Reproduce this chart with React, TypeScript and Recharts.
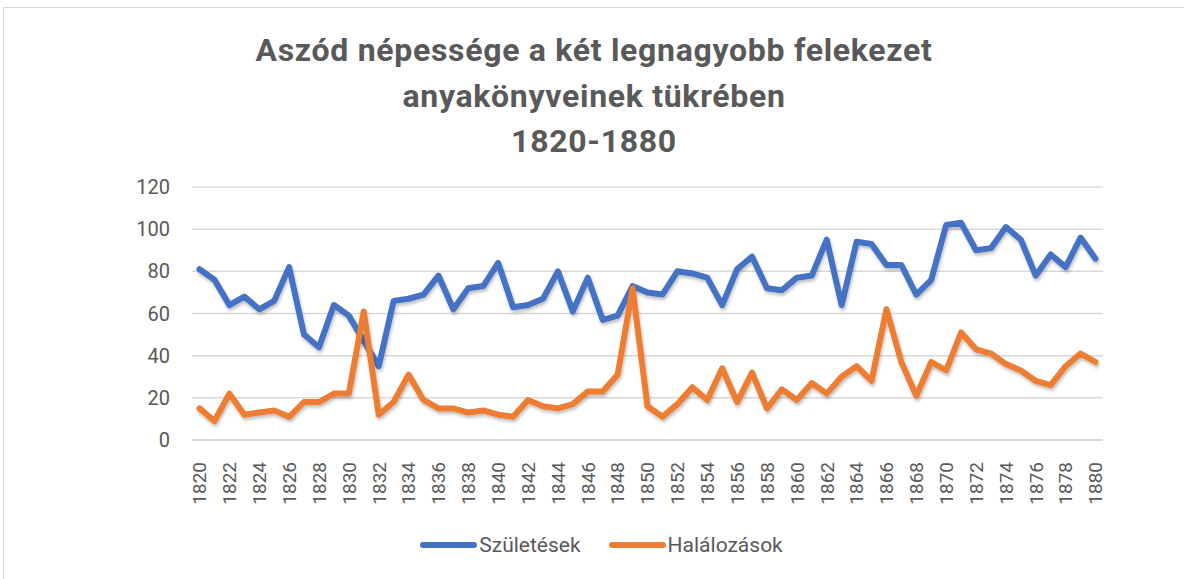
import React from "react"
import { LineChart, Line, XAxis, YAxis, CartesianGrid, Legend } from "recharts"

const years = [
  "1820", "1821", "1822", "1823", "1824", "1825", "1826", "1827", "1828", "1829",
  "1830", "1831", "1832", "1833", "1834", "1835", "1836", "1837", "1838", "1839",
  "1840", "1841", "1842", "1843", "1844", "1845", "1846", "1847", "1848", "1849",
  "1850", "1851", "1852", "1853", "1854", "1855", "1856", "1857", "1858", "1859",
  "1860", "1861", "1862", "1863", "1864", "1865", "1866", "1867", "1868", "1869",
  "1870", "1871", "1872", "1873", "1874", "1875", "1876", "1877", "1878", "1879",
  "1880",
]

// Születések
const births = [
  81, 76, 64, 68, 62, 66, 82, 50, 44, 64,
  59, 47, 35, 66, 67, 69, 78, 62, 72, 73,
  84, 63, 64, 67, 80, 61, 77, 57, 59, 73,
  70, 69, 80, 79, 77, 64, 81, 87, 72, 71,
  77, 78, 95, 64, 94, 93, 83, 83, 69, 76,
  102, 103, 90, 91, 101, 95, 78, 88, 82, 96,
  86,
]

// Halálozások
const deaths = [
  15, 9, 22, 12, 13, 14, 11, 18, 18, 22,
  22, 61, 12, 18, 31, 19, 15, 15, 13, 14,
  12, 11, 19, 16, 15, 17, 23, 23, 31, 72,
  16, 11, 17, 25, 19, 34, 18, 32, 15, 24,
  19, 27, 22, 30, 35, 28, 62, 37, 21, 37,
  33, 51, 43, 41, 36, 33, 28, 26, 35, 41,
  37,
]

const yTicks = [0, 20, 40, 60, 80, 100, 120]

const seriesOrder = ["Születések", "Halálozások"]

const titleLines = [
  "Aszód népessége a két legnagyobb felekezet",
  "anyakönyveinek tükrében",
  "1820-1880",
]

const data = years.map((year, i) => ({ year, births: births[i], deaths: deaths[i] }))

const FONT = "Roboto, 'Noto Sans', sans-serif"
const TEXT = "#595959"

function YearTick(props: any) {
  const { x, y, payload } = props
  return (
    <g transform={`translate(${x},${y})`}>
      <text
        transform="rotate(-90)"
        x={-14}
        y={0}
        dy="0.36em"
        textAnchor="end"
        fill={TEXT}
        fontSize={19}
        fontFamily={FONT}
      >
        {payload.value}
      </text>
    </g>
  )
}

function LegendContent(props: any) {
  const items = [...(props.payload || [])].sort(
    (a: any, b: any) => seriesOrder.indexOf(a.value) - seriesOrder.indexOf(b.value)
  )
  return (
    <div
      style={{
        display: "flex",
        justifyContent: "center",
        paddingLeft: 47,
        height: 49,
        lineHeight: "30px",
        fontFamily: FONT,
        fontSize: 21,
        color: TEXT,
      }}
    >
      {items.map((entry: any) => (
        <div key={entry.value} style={{ display: "flex", alignItems: "center", marginRight: 28, height: 30 }}>
          <span
            style={{
              display: "inline-block",
              width: 57,
              height: 6,
              borderRadius: 3,
              background: entry.color,
              marginRight: 2,
            }}
          />
          <span>{entry.value}</span>
        </div>
      ))}
    </div>
  )
}

export default function App() {
  return (
    <div
      style={{
        position: "absolute",
        left: 0,
        top: 0,
        width: 1184,
        height: 579,
        overflow: "hidden",
        background: "#fff",
      }}
    >
      <div
        style={{
          position: "absolute",
          left: 3,
          top: 7,
          width: 1200,
          height: 600,
          border: "1px solid #d9d9d9",
        }}
      />
      <div
        style={{
          position: "absolute",
          left: 0,
          top: 28,
          width: 1188,
          textAlign: "center",
          fontFamily: FONT,
          fontWeight: 700,
          fontSize: 32,
          letterSpacing: 0.7,
          lineHeight: "45.5px",
          color: TEXT,
        }}
      >
        {titleLines.map((t) => (
          <div key={t}>{t}</div>
        ))}
      </div>
      <div style={{ position: "absolute", left: 0, top: 0 }}>
        <LineChart width={1184} height={579} data={data} margin={{ top: 187, right: 81, left: 0, bottom: 0 }}>
          <defs>
            <filter id="lineShadow" x="-5%" y="-20%" width="110%" height="140%">
              <feDropShadow dx="1" dy="2.5" stdDeviation="1.5" floodColor="#000" floodOpacity="0.25" />
            </filter>
          </defs>
          <CartesianGrid vertical={false} stroke="#d9d9d9" strokeWidth={1.5} />
          <XAxis
            dataKey="year"
            interval={1}
            height={90}
            padding={{ left: 7.5, right: 7.5 }}
            axisLine={{ stroke: "#d9d9d9", strokeWidth: 1.5 }}
            tickLine={false}
            tick={<YearTick />}
          />
          <YAxis
            domain={[0, 120]}
            ticks={yTicks}
            width={192}
            axisLine={false}
            tickLine={false}
            tickSize={0}
            tickMargin={22}
            tick={{ fill: TEXT, fontSize: 20, fontFamily: FONT }}
          />
          <Legend verticalAlign="bottom" height={49} content={<LegendContent />} wrapperStyle={{ left: 0, width: 1184 }} />
          <Line
            type="linear"
            dataKey="births"
            name="Születések"
            stroke="#4472C4"
            strokeWidth={6}
            strokeLinejoin="round"
            strokeLinecap="round"
            dot={false}
            filter="url(#lineShadow)"
            isAnimationActive={false}
          />
          <Line
            type="linear"
            dataKey="deaths"
            name="Halálozások"
            stroke="#ED7D31"
            strokeWidth={6}
            strokeLinejoin="round"
            strokeLinecap="round"
            dot={false}
            filter="url(#lineShadow)"
            isAnimationActive={false}
          />
        </LineChart>
      </div>
    </div>
  )
}
